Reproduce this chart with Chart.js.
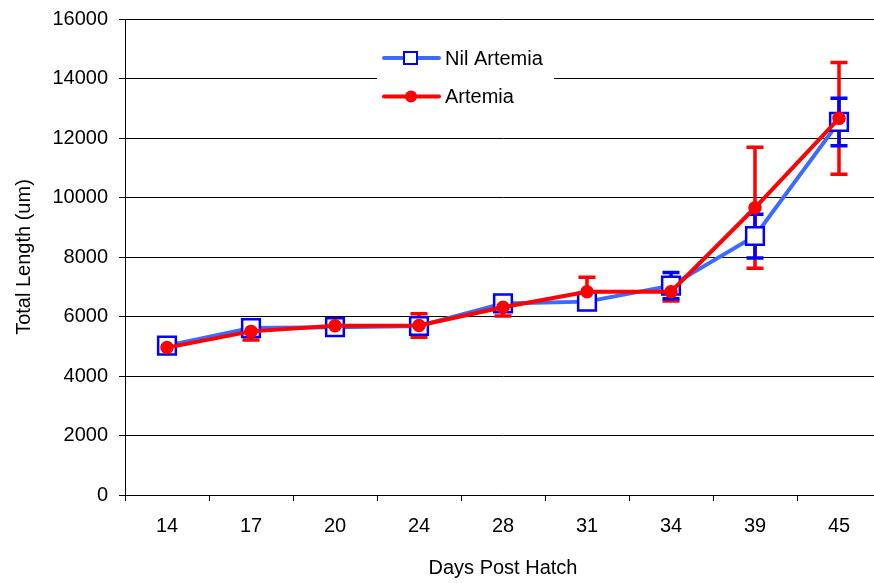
<!DOCTYPE html>
<html>
<head>
<meta charset="utf-8">
<script src="https://cdn.jsdelivr.net/npm/chart.js@4.4.1/dist/chart.umd.min.js"></script>
<style>
    html, body { margin: 0; padding: 0; background: #fff; overflow: hidden; }
    #wrap { position: relative; width: 896px; height: 583px; }
</style>
</head>
<body>
<div id="wrap"><canvas id="lengthChart"></canvas></div>
<script>
const days = ['14', '17', '20', '24', '28', '31', '34', '39', '45'];

const nilArtemia = [5020, 5610, 5640, 5680, 6440, 6500, 7035, 8705, 12540];
const nilArtemiaErr = [120, 200, 150, 150, 200, 200, 440, 735, 800];

const artemia = [4955, 5500, 5690, 5695, 6310, 6835, 6835, 9655, 12660];
const artemiaErr = [150, 290, 150, 395, 292, 484, 313, 2030, 1875];

const yTicks = [0, 2000, 4000, 6000, 8000, 10000, 12000, 14000, 16000];

const FONT = "'Liberation Sans', Arial, sans-serif";

// barras de error dibujadas antes de las series
const errorBars = {
    id: 'errorBars',
    beforeDatasetsDraw(chart) {
        const { ctx } = chart;
        const yScale = chart.scales.y;
        chart.data.datasets.forEach((ds, i) => {
            const meta = chart.getDatasetMeta(i);
            ctx.save();
            ctx.strokeStyle = ds.errorColor;
            ctx.lineWidth = 3.5;
            meta.data.forEach((pt, j) => {
                const v = ds.data[j];
                const e = ds.errors[j];
                const yTop = yScale.getPixelForValue(v + e);
                const yBot = yScale.getPixelForValue(v - e);
                ctx.beginPath();
                ctx.moveTo(pt.x, yTop);
                ctx.lineTo(pt.x, yBot);
                ctx.moveTo(pt.x - 8.5, yTop);
                ctx.lineTo(pt.x + 8.5, yTop);
                ctx.moveTo(pt.x - 8.5, yBot);
                ctx.lineTo(pt.x + 8.5, yBot);
                ctx.stroke();
            });
            ctx.restore();
        });
    }
};

// leyenda dentro del área del gráfico, con fondo blanco
const innerLegend = {
    id: 'innerLegend',
    afterDraw(chart) {
        const { ctx } = chart;
        const items = [chart.data.datasets[1], chart.data.datasets[0]];
        ctx.save();
        ctx.fillStyle = '#fff';
        ctx.fillRect(377, 40, 177, 76);
        items.forEach((ds, i) => {
            const y = 58 + i * 38.5;
            ctx.strokeStyle = ds.borderColor;
            ctx.lineWidth = 4;
            ctx.lineCap = 'round';
            ctx.beginPath();
            ctx.moveTo(384, y);
            ctx.lineTo(439, y);
            ctx.stroke();
            if (ds.pointStyle === 'rect') {
                ctx.fillStyle = ds.pointBackgroundColor;
                ctx.strokeStyle = ds.pointBorderColor;
                ctx.lineWidth = 2;
                ctx.fillRect(404, y - 6, 13, 12);
                ctx.strokeRect(404, y - 6, 13, 12);
            } else {
                ctx.fillStyle = ds.pointBackgroundColor;
                ctx.beginPath();
                ctx.arc(411, y, 6, 0, Math.PI * 2);
                ctx.fill();
            }
            ctx.fillStyle = '#000';
            ctx.font = `20px ${FONT}`;
            ctx.textAlign = 'left';
            ctx.textBaseline = 'middle';
            ctx.fillText(ds.label, 445, y + 1);
        });
        ctx.restore();
    }
};

const ctx = document.getElementById('lengthChart');

new Chart(ctx, {
    type: 'line',
    data: {
        labels: days,
        datasets: [{
            label: 'Artemia',
            data: artemia,
            errors: artemiaErr,
            errorColor: '#ff0000',
            borderColor: '#ff0000',
            borderWidth: 4,
            pointStyle: 'circle',
            pointRadius: 6,
            pointBorderWidth: 1.5,
            pointBackgroundColor: '#ff0000',
            pointBorderColor: '#ff0000',
            tension: 0,
            order: 1
        }, {
            label: 'Nil Artemia',
            data: nilArtemia,
            errors: nilArtemiaErr,
            errorColor: '#0000ff',
            borderColor: '#3d6bff',
            borderWidth: 4,
            pointStyle: 'rect',
            pointRadius: 12.5,
            pointBorderWidth: 2.5,
            pointBackgroundColor: '#ffffff',
            pointBorderColor: '#0000ff',
            tension: 0,
            order: 2
        }]
    },
    options: {
        responsive: true,
        maintainAspectRatio: false,
        devicePixelRatio: 1,
        animation: false,
        events: [],
        layout: { padding: { top: 19, right: 3, bottom: 0, left: 0 } },
        plugins: {
            legend: { display: false },
            tooltip: { enabled: false }
        },
        scales: {
            x: {
                type: 'category',
                offset: true,
                grid: { offset: true, drawOnChartArea: false, tickLength: 6, color: '#000', tickColor: '#000' },
                border: { color: '#000', width: 1 },
                ticks: { color: '#000', font: { family: FONT, size: 20 }, padding: 13, maxRotation: 0 },
                title: {
                    display: true,
                    text: 'Days Post Hatch',
                    color: '#000',
                    font: { family: FONT, size: 20 },
                    padding: { top: 0, bottom: 3 }
                },
                afterFit: scale => {
                    scale.height = 88;
                    scale.paddingLeft = 0;
                    scale.paddingRight = 0;
                }
            },
            y: {
                min: 0,
                max: 16000,
                afterBuildTicks: scale => { scale.ticks = yTicks.map(v => ({ value: v })); },
                grid: { color: '#000', tickColor: '#000', tickLength: 6 },
                border: { color: '#000', width: 1 },
                ticks: {
                    color: '#000',
                    font: { family: FONT, size: 20 },
                    padding: 11,
                    callback: v => String(v)
                },
                title: {
                    display: true,
                    text: 'Total Length (um)',
                    color: '#000',
                    font: { family: FONT, size: 20 },
                    padding: { top: 12, bottom: 0 }
                },
                afterFit: scale => {
                    scale.width = 125;
                    scale.paddingTop = 0;
                    scale.paddingBottom = 0;
                }
            }
        }
    },
    plugins: [errorBars, innerLegend]
});
</script>
</body>
</html>
